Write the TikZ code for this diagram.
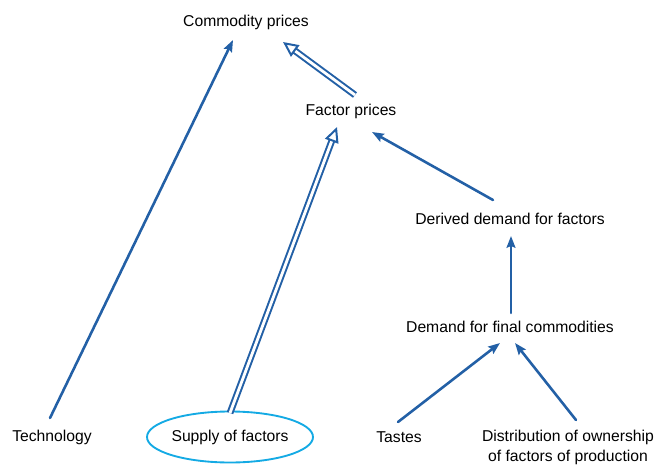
\documentclass[tikz,border=0pt]{standalone}
\usepackage{fontspec}
\setmainfont{Liberation Sans}
\usetikzlibrary{arrows.meta,calc,shapes.geometric}
\definecolor{arrowblue}{RGB}{35,96,166}
\definecolor{ringcyan}{RGB}{20,170,228}
\tikzset{
	onearrow/.style={arrowblue, line width=2.2pt, -{Stealth[length=10pt,width=7.5pt,inset=1.5pt]}},
	twoarrow/.style={arrowblue, line width=1.7pt, line cap=butt, double=white, double distance=2.4pt, -{Triangle[open,length=13pt,width=12pt,line width=1.7pt]}}
}
\begin{document}
\begin{tikzpicture}[x=0.03cm, y=-0.03cm, font=\fontsize{13.4}{17}\selectfont, line join=round, line cap=round]
				\useasboundingbox (0,0) rectangle (659,464);
				\draw (246,22) node (commodity) {Commodity prices};
				\draw (351,111) node (factor) {Factor prices};
				\draw (510,219) node (derived) {Derived demand for factors};
				\draw (510,327) node (final) {Demand for final commodities};
				\draw (52,437) node (tech) {Technology};
				\draw (230,437) node[ellipse, draw=ringcyan, line width=1.6pt, minimum width=4.98cm, minimum height=1.53cm, inner sep=0pt] (supply) {Supply of factors};
				\draw (399,437) node (tastes) {Tastes};
				\draw (568,447) node[align=center] (distrib) {Distribution of ownership\\of factors of production};
				\draw[onearrow] ($(tech)+(-2,-19)$) -- ($(commodity)+(-13,18)$);
				\draw[twoarrow] ($(factor)+(4,-16)$) -- ($(commodity)+(37,20)$);
				\draw[twoarrow] ($(supply)+(0,-24)$) -- ($(factor)+(-14,16)$);
				\draw[onearrow] ($(derived)+(-17,-19)$) -- ($(factor)+(21,21)$);
				\draw[onearrow] ($(final)+(1,-14)$) -- ($(derived)+(1,17)$);
				\draw[onearrow] ($(tastes)+(-1,-15)$) -- ($(final)+(-10,16)$);
				\draw[onearrow] ($(distrib)+(8,-27)$) -- ($(final)+(5,16)$);
			\end{tikzpicture}
\end{document}
